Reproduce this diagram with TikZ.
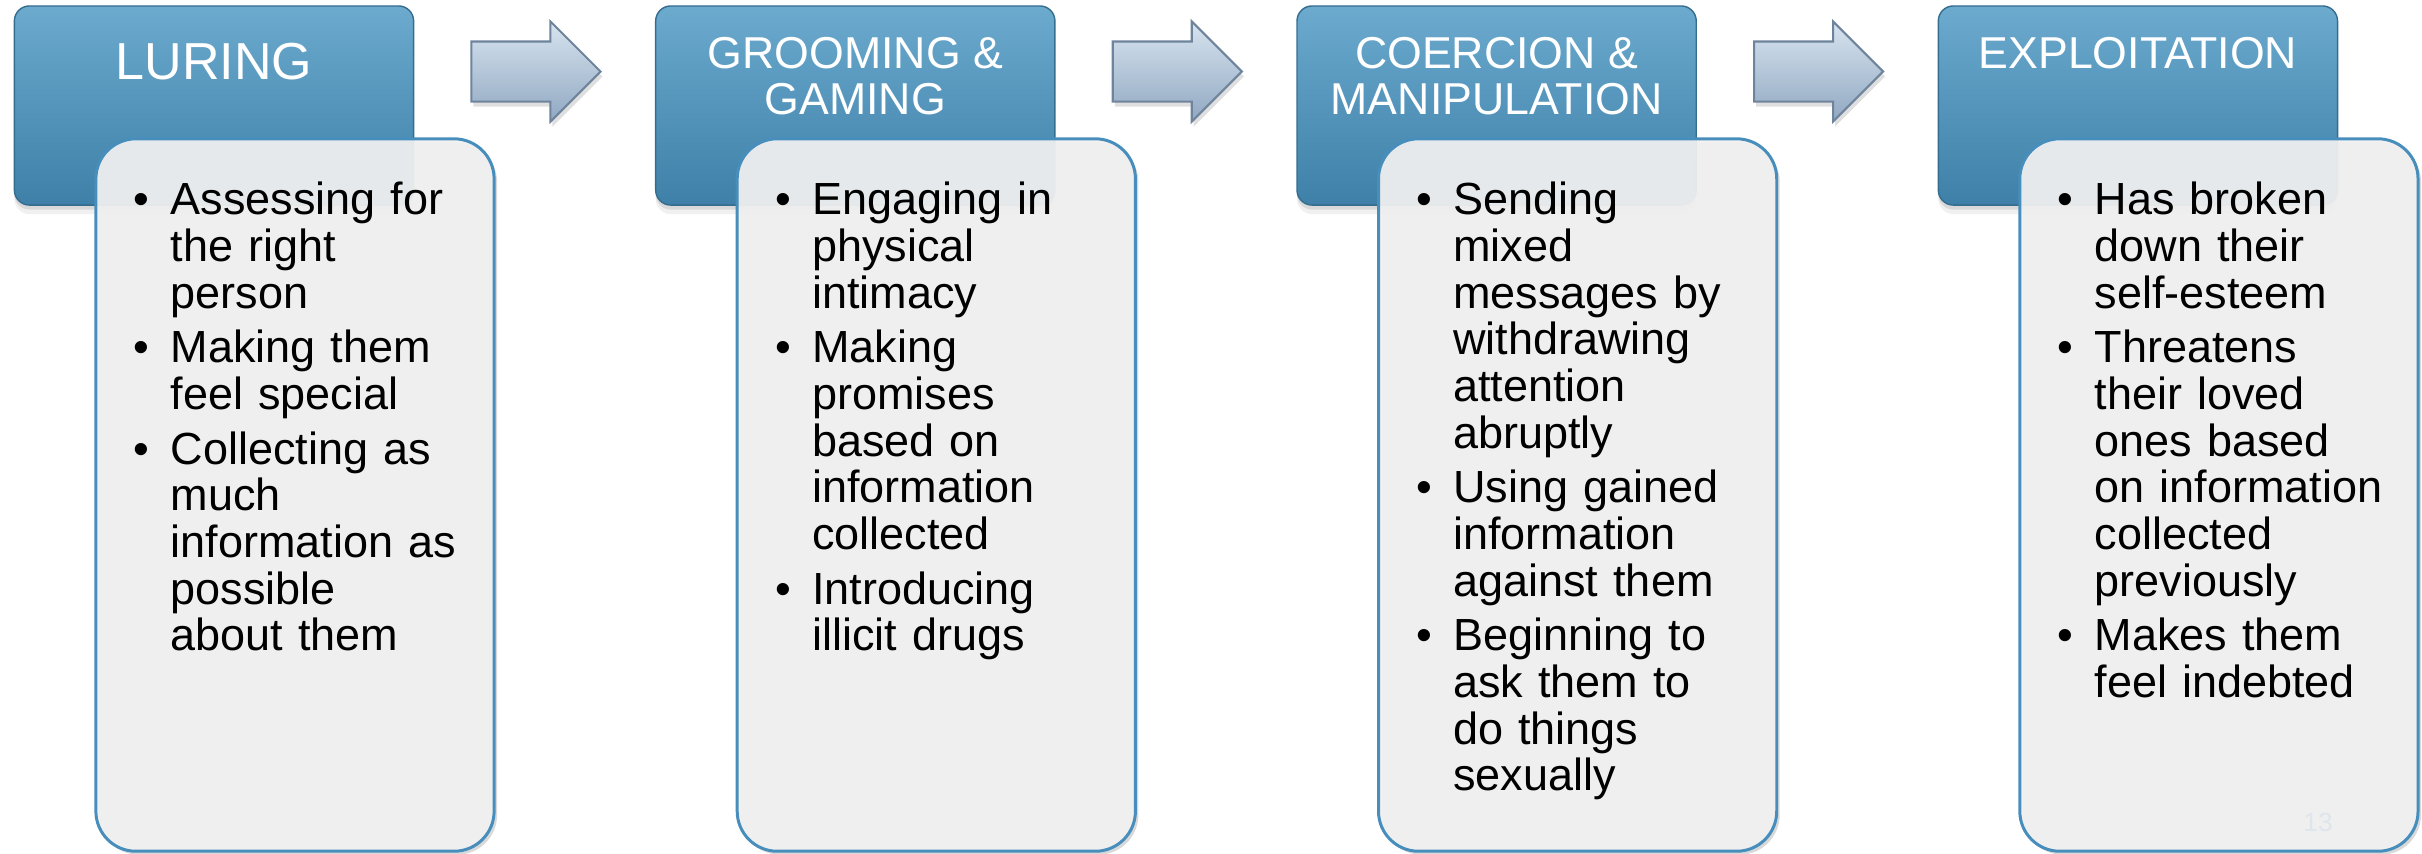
\documentclass[tikz,border=0pt]{standalone}
\usepackage{fontspec}
\setmainfont{Liberation Sans}
\usetikzlibrary{shapes.arrows,shadows}
\definecolor{headtop}{RGB}{108,170,206}
\definecolor{headbot}{RGB}{62,128,168}
\definecolor{bodyfill}{RGB}{241,241,241}
\definecolor{bodyline}{RGB}{72,142,188}
\definecolor{arrtop}{RGB}{216,228,239}
\definecolor{arrbot}{RGB}{144,168,194}
\definecolor{arrline}{RGB}{110,132,156}
\definecolor{pagenum}{RGB}{222,229,236}
\newcommand{\bitem}{\par\hangindent=0.37cm\hangafter=1\noindent\makebox[0.37cm][l]{\textbullet}}

\begin{document}
\begin{tikzpicture}[x=0.01cm,y=-0.01cm,
	head/.style={rectangle,rounded corners=0.15cm,minimum width=3.99cm,minimum height=1.99cm,inner sep=0,
		top color=headtop,bottom color=headbot,draw=headbot!85!black,line width=0.4pt,
		drop shadow={shadow xshift=0cm,shadow yshift=-0.09cm,opacity=0.12},
		drop shadow={shadow xshift=0cm,shadow yshift=-0.045cm,opacity=0.2}},
	headtext/.style={anchor=north,inner sep=0,text=white,align=center,font=\fontsize{12.7pt}{13.1pt}\selectfont},
	blockarrow/.style={single arrow,anchor=tip,minimum height=1.29cm,minimum width=0.98cm,single arrow head extend=0.2cm,
		single arrow head indent=0cm,inner xsep=0,inner ysep=0.29cm,top color=arrtop,bottom color=arrbot,draw=arrline,line width=0.6pt,
		drop shadow={shadow xshift=0.02cm,shadow yshift=-0.05cm,opacity=0.25}},
	bodybox/.style={rectangle,rounded corners=0.4cm,minimum width=3.98cm,minimum height=7.12cm,inner sep=0,
		draw=bodyline,line width=0.85pt,fill=bodyfill,fill opacity=0.93,
		drop shadow={shadow xshift=0.03cm,shadow yshift=-0.035cm,opacity=0.3}},
	bodytext/.style={anchor=north west,inner sep=0,text width=3.4cm,font=\fontsize{12.8pt}{13.26pt}\selectfont,
		execute at begin node={\raggedright\parskip=2.3pt\lineskiplimit=-10pt}}]
	\useasboundingbox (0,0) rectangle (2422,853);
	\node[head] (0) at (214, 105.5) {};
	\node[head] (1) at (855.3, 105.5) {};
	\node[head] (2) at (1496.6, 105.5) {};
	\node[head] (3) at (2137.9, 105.5) {};
	\node[blockarrow] (4) at (602, 71.5) {};
	\node[blockarrow] (5) at (1243.3, 71.5) {};
	\node[blockarrow] (6) at (1884.6, 71.5) {};
	\node[bodybox] (7) at (295, 495) {};
	\node[bodybox] (8) at (936.3, 495) {};
	\node[bodybox] (9) at (1577.6, 495) {};
	\node[bodybox] (10) at (2218.9, 495) {};
	\node[headtext,font=\fontsize{14.8pt}{15pt}\selectfont] (11) at (214, 42) {LURING};
	\node[headtext] (12) at (855.3, 37) {GROOMING \&\\GAMING};
	\node[headtext] (13) at (1496.6, 37) {COERCION \&\\MANIPULATION};
	\node[headtext] (14) at (2137.9, 37) {EXPLOITATION};
	\node[bodytext] (15) at (133, 159.5) {\bitem Assessing for\newline the right\newline person
		\bitem Making them\newline feel special
		\bitem Collecting as\newline much\newline information as\newline possible\newline about them\endgraf};
	\node[bodytext] (16) at (774.3, 159.5) {\bitem Engaging in\newline physical\newline intimacy
		\bitem Making\newline promises\newline based on\newline information\newline collected
		\bitem Introducing\newline illicit drugs\endgraf};
	\node[bodytext] (17) at (1415.6, 159.5) {\bitem Sending\newline mixed\newline messages by\newline withdrawing\newline attention\newline abruptly
		\bitem Using gained\newline information\newline against them
		\bitem Beginning to\newline ask them to\newline do things\newline sexually\endgraf};
	\node[bodytext] (18) at (2056.9, 159.5) {\bitem Has broken\newline down their\newline self-esteem
		\bitem Threatens\newline their loved\newline ones based\newline on information\newline collected\newline previously
		\bitem Makes them\newline feel indebted\endgraf};
	\node[text=pagenum,inner sep=0,font=\fontsize{7.5pt}{8pt}\selectfont] (19) at (2318, 822) {13};
\end{tikzpicture}
\end{document}
